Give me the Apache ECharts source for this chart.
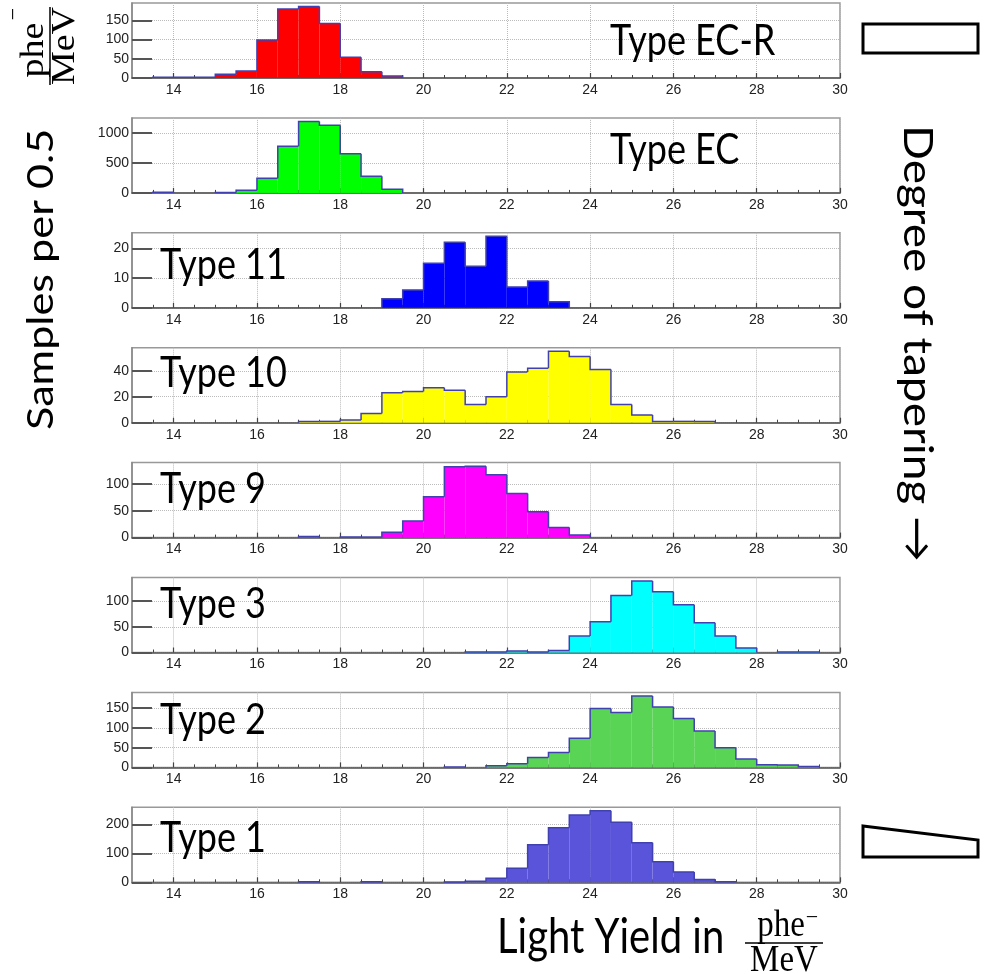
<!DOCTYPE html>
<html><head><meta charset="utf-8">
<script src="https://cdn.jsdelivr.net/npm/echarts@6/dist/echarts.min.js"></script>
<style>html,body{margin:0;padding:0;background:#fff}#c{width:986px;height:974px}</style>
</head><body><div id="c"></div>
<script>
// ---------------- data ----------------
const binWidth = 0.5;
const panelNames = ['Type EC-R', 'Type EC', 'Type 11', 'Type 10', 'Type 9', 'Type 3', 'Type 2', 'Type 1'];
const binStarts = [13.5, 13.5, 19, 17, 17, 21, 20.5, 17];
const typeECR = [2, 2, 2, 10, 18, 99, 180, 186, 142, 54, 16, 5];
const typeEC = [10, 0, 0, 8, 45, 246, 782, 1196, 1134, 654, 279, 61];
const type11 = [3, 6, 15, 22, 14, 24, 7, 9, 2];
const type10 = [1, 1, 2, 7, 23, 24, 27, 25, 14, 20, 39, 42, 55, 51, 41, 14, 6, 1, 1, 1];
const type9 = [2, 0, 1, 1, 10, 31, 76, 132, 133, 117, 82, 48, 19, 5];
const type3 = [1, 1, 3, 1, 4, 32, 60, 111, 139, 118, 93, 58, 32, 9, 0, 1, 1];
const type2 = [1, 0, 4, 9, 25, 38, 74, 149, 139, 181, 153, 124, 92, 50, 21, 7, 6, 2];
const type1 = [2, 0, 0, 2, 0, 0, 0, 1, 4, 14, 49, 130, 189, 233, 247, 208, 137, 71, 36, 10, 2];
const panelValues = [typeECR, typeEC, type11, type10, type9, type3, type2, type1];
const yTickSteps = [50, 500, 10, 20, 50, 50, 50, 100];
const xTickLabels = [14, 16, 18, 20, 22, 24, 26, 28, 30];
const xMin = 13, xMax = 30;

// ---------------- styles ----------------
const fillColors = ['#ff0000', '#00ff00', '#0000ff', '#ffff00', '#ff00ff', '#00ffff', '#59d454', '#5954d9'];
const outlineColor = '#4040b0';
const gridLeft = 132, gridWidth = 708, gridTop0 = 3, gridPitch = 114.9, gridHeight = 75;
const labelPos = [
  [610, 41], [610, 150], [160, 265], [160, 373], [160, 489], [160, 604], [160, 720], [160, 838]
];

const grids = [], xAxes = [], yAxes = [], series = [], graphics = [];
const plainNum = function (v) { return String(v); };

panelValues.forEach((vals, k) => {
  const top = gridTop0 + gridPitch * k;
  grids.push({left: gridLeft, width: gridWidth, top: top, height: gridHeight,
    show: true, borderColor: '#999', borderWidth: 1.5, backgroundColor: '#fff'});
  xAxes.push({
    type: 'value', gridIndex: k, min: xMin, max: xMax, splitNumber: 8,
    axisLine: {show: true, onZero: false, lineStyle: {color: '#555', width: 1.5}},
    axisTick: {show: true, inside: true, length: 5, customValues: xTickLabels, lineStyle: {color: '#444', width: 1.2}},
    minorTick: {show: true, splitNumber: 4, length: 3, lineStyle: {color: '#444', width: 1}},
    axisLabel: {show: true, customValues: xTickLabels, margin: 5, formatter: plainNum,
      fontFamily: 'Liberation Sans, Arial, sans-serif', fontSize: 14, color: '#222'},
    splitLine: {show: true, lineStyle: {color: '#bbb', type: 'dotted', width: 1}}
  });
  const maxV = Math.max.apply(null, vals) * 1.05;
  const step = yTickSteps[k];
  const yt = [];
  for (let v = 0; v <= maxV; v += step) yt.push(v);
  yAxes.push({
    type: 'value', gridIndex: k, min: 0, max: maxV, interval: step,
    axisLine: {show: true, lineStyle: {color: '#888', width: 1.5}},
    axisTick: {show: true, inside: true, length: 20, customValues: yt, lineStyle: {color: '#555', width: 2}},
    axisLabel: {show: true, customValues: yt, margin: 3, formatter: plainNum,
      fontFamily: 'Liberation Sans, Arial, sans-serif', fontSize: 14, color: '#222'},
    splitLine: {show: true, lineStyle: {color: '#bbb', type: 'dotted', width: 1}}
  });
  const start = binStarts[k];
  const data = vals.map((v, i) => [start + i * binWidth, start + (i + 1) * binWidth, v,
    i > 0 ? vals[i - 1] : 0, i === vals.length - 1 ? 1 : 0]);
  const fill = fillColors[k];
  series.push({
    type: 'custom', xAxisIndex: k, yAxisIndex: k, data: data, z: 3,
    renderItem: function (params, api) {
      const x0 = api.value(0), x1 = api.value(1), v = api.value(2), vp = api.value(3), last = api.value(4);
      const a = api.coord([x0, 0]), b = api.coord([x1, v]);
      const children = [];
      if (v > 0) {
        children.push({type: 'rect', shape: {x: a[0], y: b[1], width: b[0] - a[0], height: a[1] - b[1]},
          style: {fill: fill}});
      }
      const pts = [api.coord([x0, vp]), api.coord([x0, v])];
      if (v > 0) pts.push(api.coord([x1, v]));
      if (last && v > 0) pts.push(api.coord([x1, 0]));
      if (vp > 0 || v > 0) {
        children.push({type: 'polyline', shape: {points: pts},
          style: {stroke: outlineColor, lineWidth: 1.5, fill: null}});
      }
      return {type: 'group', children: children};
    }
  });
  graphics.push({type: 'text', x: labelPos[k][0], y: labelPos[k][1], scaleY: 1.2, z: 10,
    style: {text: panelNames[k], font: '36px Lato, sans-serif', fill: '#000',
      textAlign: 'left', textVerticalAlign: 'middle'}});
});

// axis titles
const titleFont = 'Lato, sans-serif';
const serifFont = '"Liberation Serif", "DejaVu Serif", serif';
// y title (rotated)
graphics.push({type: 'text', x: 41, y: 430, rotation: Math.PI / 2, scaleX: 1.2, z: 10,
  style: {text: 'Samples per 0.5', font: '36px ' + titleFont, fill: '#000', textAlign: 'left', textVerticalAlign: 'middle'}});
graphics.push({type: 'text', x: 34, y: 50, rotation: Math.PI / 2, scaleX: 1.15, z: 10,
  style: {text: 'phe', font: '33px ' + serifFont, fill: '#000', textAlign: 'center', textVerticalAlign: 'middle'}});
graphics.push({type: 'text', x: 14, y: 14, rotation: Math.PI / 2, z: 10,
  style: {text: '\u2212', font: '22px ' + serifFont, fill: '#000', textAlign: 'center', textVerticalAlign: 'middle'}});
graphics.push({type: 'line', z: 10, shape: {x1: 50, y1: 7, x2: 50, y2: 85}, style: {stroke: '#000', lineWidth: 1.5}});
graphics.push({type: 'text', x: 65, y: 46, rotation: Math.PI / 2, scaleX: 1.15, z: 10,
  style: {text: 'MeV', font: '33px ' + serifFont, fill: '#000', textAlign: 'center', textVerticalAlign: 'middle'}});
// x title
graphics.push({type: 'text', x: 497, y: 938, scaleY: 1.2, z: 10,
  style: {text: 'Light Yield in', font: '40px ' + titleFont, fill: '#000', textAlign: 'left', textVerticalAlign: 'middle'}});
graphics.push({type: 'text', x: 781, y: 926, scaleY: 1.15, z: 10,
  style: {text: 'phe', font: '33px ' + serifFont, fill: '#000', textAlign: 'center', textVerticalAlign: 'middle'}});
graphics.push({type: 'text', x: 812, y: 918, z: 10,
  style: {text: '\u2212', font: '22px ' + serifFont, fill: '#000', textAlign: 'center', textVerticalAlign: 'middle'}});
graphics.push({type: 'line', z: 10, shape: {x1: 745, y1: 943, x2: 823, y2: 943}, style: {stroke: '#000', lineWidth: 1.5}});
graphics.push({type: 'text', x: 784, y: 961, scaleY: 1.15, z: 10,
  style: {text: 'MeV', font: '33px ' + serifFont, fill: '#000', textAlign: 'center', textVerticalAlign: 'middle'}});
// right title
graphics.push({type: 'text', x: 917, y: 125, rotation: -Math.PI / 2, scaleX: 1.15, z: 10,
  style: {text: 'Degree of tapering \u2192', font: '40px ' + titleFont, fill: '#000', textAlign: 'left', textVerticalAlign: 'middle'}});
// shapes
graphics.push({type: 'rect', z: 10, shape: {x: 863, y: 24, width: 115, height: 29},
  style: {stroke: '#000', lineWidth: 3, fill: null}});
graphics.push({type: 'polygon', z: 10, shape: {points: [[863, 826], [978, 840], [978, 857], [863, 857]]},
  style: {stroke: '#000', lineWidth: 3, fill: null}});

const chart = echarts.init(document.getElementById('c'), null, {renderer: 'canvas'});
chart.setOption({
  animation: false,
  backgroundColor: '#fff',
  grid: grids, xAxis: xAxes, yAxis: yAxes, series: series, graphic: graphics
});
</script></body></html>
